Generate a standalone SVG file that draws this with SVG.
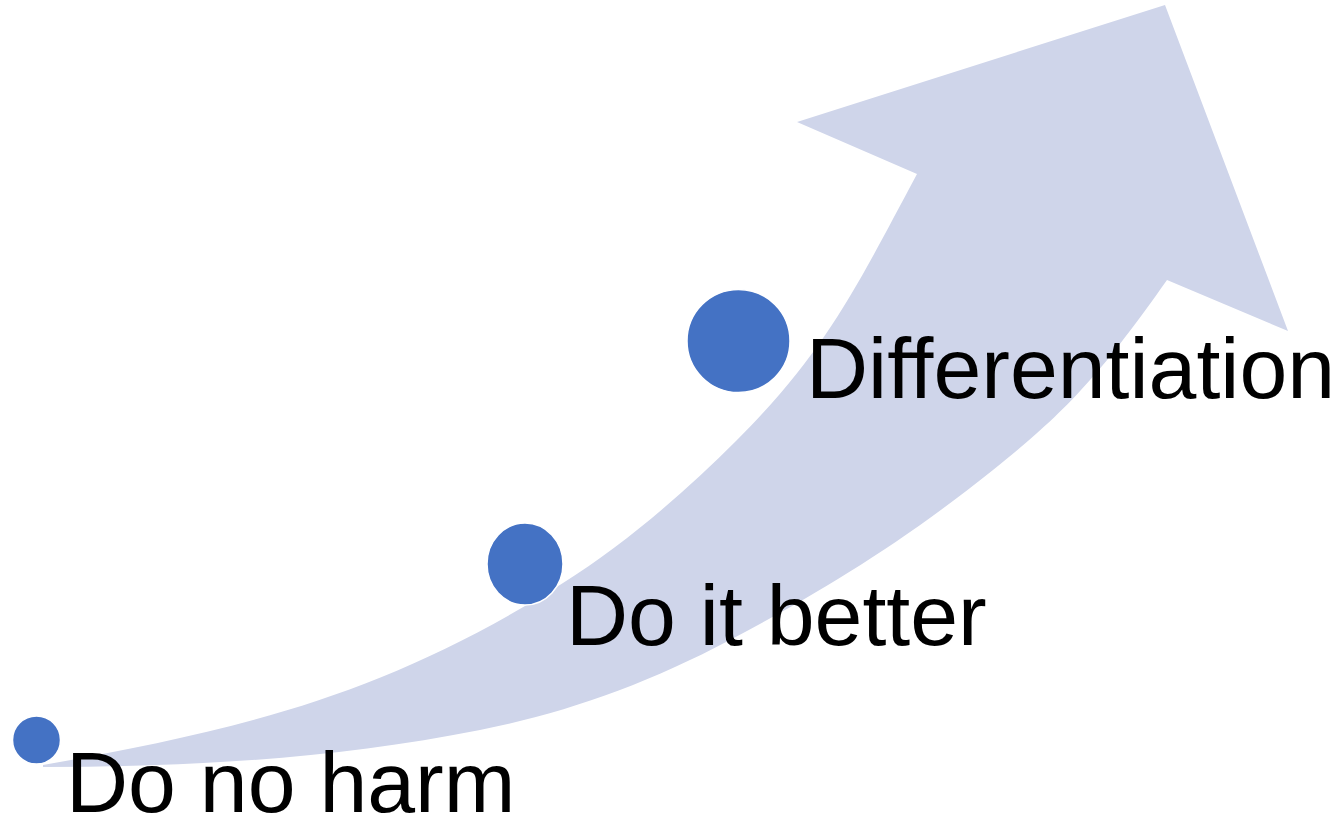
<svg xmlns="http://www.w3.org/2000/svg" width="1338" height="819" viewBox="0 0 1338 819">
<style>
.arrow{fill:#CFD5EA;stroke:none}
.dot{fill:#4472C4;stroke:#FFFFFF;stroke-width:1.5}
.lbl{font-family:"Liberation Sans",Arial,sans-serif;font-size:86px;fill:#000000}
</style>
<rect width="1338" height="819" fill="#FFFFFF"/>
<g id="connectors">
<path class="arrow" d="M43,765 C243,729 383,696 563,583 C623,545.3 682,495 737,440 C827,350 857,286 917,174 L797,122 L1165,5 L1288,331 L1167,280 C1097,379.4 1063,414 993,470 C893,550 810,597.6 730,640 C645,685 565,713 480,730 C335,759 188,767 43,767 Z"/>
</g>
<g id="node-do-no-harm">
<circle class="dot" cx="36.5" cy="740" r="24"/>
<text class="lbl" x="66" y="812">Do no harm</text>
</g>
<g id="node-do-it-better">
<ellipse class="dot" cx="525" cy="564" rx="38" ry="41"/>
<text class="lbl" x="566" y="645">Do it better</text>
</g>
<g id="node-differentiation">
<circle class="dot" cx="738.5" cy="341" r="51.5"/>
<text class="lbl" x="806" y="398">Differentiation</text>
</g>
</svg>
